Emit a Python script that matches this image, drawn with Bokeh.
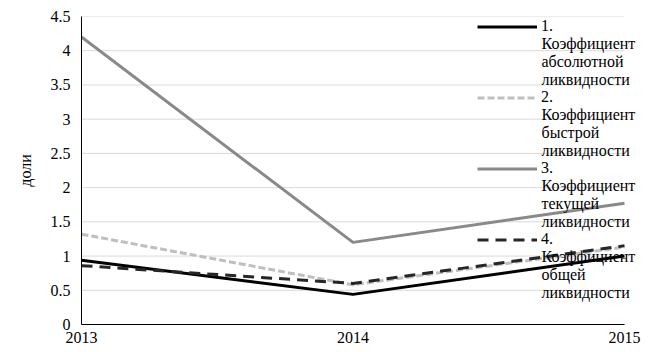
from bokeh.plotting import figure
from bokeh.models import Range1d, FixedTicker, Legend, LegendItem, Label
from bokeh.embed import file_html
from bokeh.resources import INLINE

years = [2013, 2014, 2015]
abs_liq = [0.94, 0.44, 1.0]
quick_liq = [1.32, 0.58, 1.13]
current_liq = [4.2, 1.2, 1.77]
total_liq = [0.86, 0.60, 1.15]
label_nums = ["1.", "2.", "3.", "4."]
label_rest = [
    "Коэффициент\nабсолютной\nликвидности",
    "Коэффициент\nбыстрой\nликвидности",
    "Коэффициент\nтекущей\nликвидности",
    "Коэффициент\nобщей\nликвидности",
]
y_ticks = [0, 0.5, 1, 1.5, 2, 2.5, 3, 3.5, 4, 4.5]

FONT = "Liberation Serif"
FS = "16px"

FRAME_W = 569
DATA_W = 543
x_end = years[0] + (years[-1] - years[0]) * FRAME_W / DATA_W

p = figure(width=653, height=352, output_backend="svg", toolbar_location=None,
           x_range=Range1d(years[0], x_end), y_range=Range1d(0, 4.5),
           min_border_left=81, min_border_right=3, min_border_top=16, min_border_bottom=28)
p.frame_width = FRAME_W
p.frame_height = 308
p.outline_line_color = None

p.xaxis.ticker = FixedTicker(ticks=years)
p.xaxis.bounds = (years[0], years[-1])
p.yaxis.ticker = FixedTicker(ticks=y_ticks)
p.yaxis.major_label_overrides = {0: "0", 1: "1", 2: "2", 3: "3", 4: "4"}
for ax in (p.xaxis, p.yaxis):
    ax.axis_line_color = "black"
    ax.axis_line_width = 1
    ax.major_tick_line_color = None
    ax.minor_tick_line_color = None
    ax.major_label_text_font = FONT
    ax.major_label_text_font_size = FS
    ax.major_label_text_color = "black"
p.xaxis.major_label_standoff = 1
p.yaxis.major_label_standoff = 5
p.yaxis.axis_label = "доли"
p.yaxis.axis_label_text_font = FONT
p.yaxis.axis_label_text_font_size = FS
p.yaxis.axis_label_text_font_style = "normal"
p.yaxis.axis_label_text_color = "black"
p.yaxis.axis_label_standoff = 14
p.xgrid.grid_line_color = None
p.ygrid.grid_line_color = None

p.segment(x0=[years[0]] * len(y_ticks), x1=[years[-1]] * len(y_ticks),
          y0=y_ticks, y1=y_ticks, line_color="#d9d9d9", line_width=1)

r1 = p.line(years, abs_liq, line_color="black", line_width=3)
r2 = p.line(years, quick_liq, line_color="#bfbfbf", line_width=3, line_dash="7 3")
r3 = p.line(years, current_liq, line_color="#898989", line_width=3)
r4 = p.line(years, total_liq, line_color="#262626", line_width=3, line_dash="11 7")

legend = Legend(items=[LegendItem(label=l, renderers=[r]) for l, r in zip(label_nums, [r1, r2, r3, r4])],
                location=(396, 76), padding=0, margin=0, spacing=53,
                glyph_width=60, glyph_height=17, label_standoff=4, label_height=17,
                label_text_font=FONT, label_text_font_size=FS, label_text_color="black",
                label_text_line_height=1.06,
                background_fill_alpha=0, border_line_alpha=0)
p.add_layout(legend, "center")

for k, txt in enumerate(label_rest):
    p.add_layout(Label(x=460, y=324 - 34 - 71 * k, x_units="screen", y_units="screen",
                       text=txt, text_font=FONT, text_font_size=FS,
                       text_line_height=1.06, text_baseline="top", text_align="left",
                       text_color="black"))

open("out.html", "w").write(file_html(p, INLINE))
